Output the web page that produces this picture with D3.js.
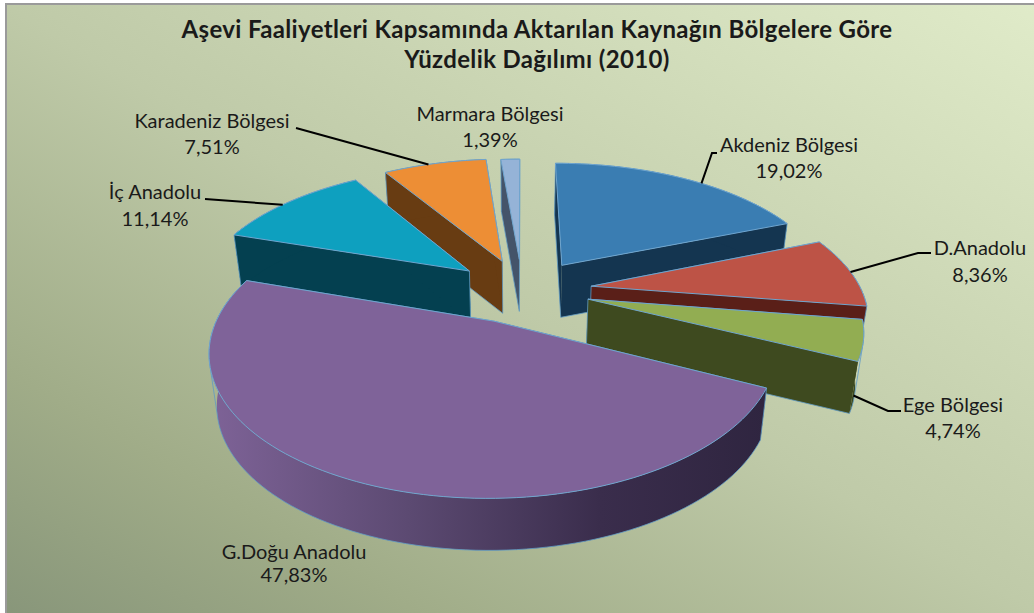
<!DOCTYPE html>
<html><head><meta charset="utf-8">
<script src="https://cdnjs.cloudflare.com/ajax/libs/d3/7.8.5/d3.min.js"></script>
<style>html,body{margin:0;background:#fff}svg{display:block}text{font-family:Lato,"Open Sans",sans-serif;fill:#1a1a1a}</style>
</head><body><svg id="c" width="1034" height="613"></svg>
<script>
const categories=["Akdeniz Bölgesi","D.Anadolu","Ege Bölgesi","G.Doğu Anadolu","İç Anadolu","Karadeniz Bölgesi","Marmara Bölgesi"];
const values=[19.02,8.36,4.74,47.83,11.14,7.51,1.39];
const valueLabels=["19,02%","8,36%","4,74%","47,83%","11,14%","7,51%","1,39%"];
const explodes=[72,70,70,62,62,58,64];
const radiusScale=[1.015,1,.975,.985,1.01,1.01,1];
const nudges=[[3,5],[2,2],[0,1],[-2,4],[-3,1],[0,-1],[2,1]];
const topColors=["#3a7db2","#bd5346","#92ad52","#7f6399","#0ea0bf","#ed8e35","#95b3d7"];
const sideColors=["#143550","#5a1f18","#3e4a1f","url(#gSide)","#044050","#683c12","#44546a"];
const titleLines=["Aşevi Faaliyetleri Kapsamında Aktarılan Kaynağın Bölgelere Göre","Yüzdelik Dağılımı (2010)"];
const paintOrder=[6,5,4,0,1,2,3];
const labelLayout=[
 {x:789,y:[152,178],leader:[[712,153],[717,153]],at:.57},
 {x:980,y:[255,282],leader:[[918,253],[931,253]],at:.5},
 {x:953,y:[412,438],leader:null},
 {x:294,y:[559,582],leader:null},
 {x:155,y:[199,226],leader:[[205,199]],at:.47},
 {x:212,y:[128,154],leader:[[296,128]],at:.45},
 {x:490,y:[121,147],leader:null}];

const W=1034,H=613,cx=520,cy=288,R=270,K=.485,P=.2,D=52,SH=.975;
const svg=d3.select("#c");
const defs=svg.append("defs");
const bg=defs.append("linearGradient").attr("id","gBg").attr("gradientUnits","userSpaceOnUse")
 .attr("x1",251).attr("y1",759).attr("x2",783).attr("y2",-147);
[[0,"#88967a"],[.2,"#a0ac88"],[.5,"#bfcaa8"],[1,"#e0ebc9"]].forEach(s=>bg.append("stop").attr("offset",s[0]).attr("stop-color",s[1]));
const gs=defs.append("linearGradient").attr("id","gSide").attr("gradientUnits","userSpaceOnUse")
 .attr("x1",215).attr("y1",0).attr("x2",765).attr("y2",0);
[[0,"#7d6296"],[.35,"#5c4a72"],[.7,"#3a2d4c"],[1,"#2f2540"]].forEach(s=>gs.append("stop").attr("offset",s[0]).attr("stop-color",s[1]));

svg.append("rect").attr("x",5).attr("y",3).attr("width",W-5).attr("height",H-3).attr("fill","url(#gBg)");
svg.append("rect").attr("x",5).attr("y",3).attr("width",2).attr("height",H-3).attr("fill","#9a9a9a");
svg.append("rect").attr("x",5).attr("y",3).attr("width",W-5).attr("height",2).attr("fill","#9a9a9a");

function project(X,Y,n){const w=1+P*Y/R;return [cx+X/w+n[0],cy-K*Y/w+n[1]];}
function down(p){return [cx+(p[0]-cx)*SH,p[1]+D];}
const arcs=d3.pie().sort(null).startAngle(0).endAngle(2*Math.PI)(values);
const line=d3.line();
const slices=arcs.map((a,i)=>{
 const m=(a.startAngle+a.endAngle)/2,e=explodes[i],r=R*radiusScale[i],nu=nudges[i];
 const ox=e*Math.sin(m),oy=e*Math.cos(m);
 const n=Math.max(4,Math.ceil((a.endAngle-a.startAngle)/.03));
 const outer=d3.range(n+1).map(j=>{const t=a.startAngle+(a.endAngle-a.startAngle)*j/n;
  return project(ox+r*Math.sin(t),oy+r*Math.cos(t),nu);});
 return {i,apex:project(ox,oy,nu),outer};
});
const pies=svg.append("g");
paintOrder.forEach(i=>{
 const s=slices[i],g=pies.append("g");
 const aB=down(s.apex),oB=s.outer.map(down);
 const walls=[[s.apex,s.outer[0],oB[0],aB],[s.apex,s.outer[s.outer.length-1],oB[oB.length-1],aB],[...s.outer,...oB.slice().reverse()]];
 walls.forEach(w=>g.append("path").attr("d",line(w)+"Z").attr("fill",sideColors[i]));
 const hull=d3.polygonHull([s.apex,aB,...s.outer,...oB]);
 g.append("path").attr("d",line(hull)+"Z").attr("fill","none").attr("stroke","#5f9ac4").attr("stroke-width",.8).attr("stroke-linejoin","round");
 g.append("path").attr("d",line([s.apex,...s.outer])+"Z").attr("fill",topColors[i])
  .attr("stroke","#6fa5cf").attr("stroke-width",1).attr("stroke-linejoin","round");
});

const title=svg.append("g");
titleLines.forEach((t,i)=>title.append("text").attr("x",537).attr("y",38+i*30).attr("text-anchor","middle")
 .attr("font-size",24).attr("letter-spacing",.35).attr("font-weight",700).text(t));

labelLayout.forEach((l,i)=>{
 const s=slices[i];
 svg.append("text").attr("x",l.x).attr("y",l.y[0]).attr("text-anchor","middle").attr("font-size",20).text(categories[i]);
 svg.append("text").attr("x",l.x).attr("y",l.y[1]).attr("text-anchor","middle").attr("font-size",20).text(valueLabels[i]);
 if(l.leader){
  const start=s.outer[Math.round((s.outer.length-1)*l.at)];
  svg.append("path").attr("d",line([start,...l.leader])).attr("fill","none").attr("stroke","#000").attr("stroke-width",2);
 }
});
// Ege leader begins on the lower wall of its slice
const eg=slices[2],egP=down(eg.outer[eg.outer.length-1]);
svg.append("path").attr("d",line([[egP[0]+4,egP[1]-18],[888,411],[901,411]])).attr("fill","none").attr("stroke","#000").attr("stroke-width",2);
</script></body></html>
